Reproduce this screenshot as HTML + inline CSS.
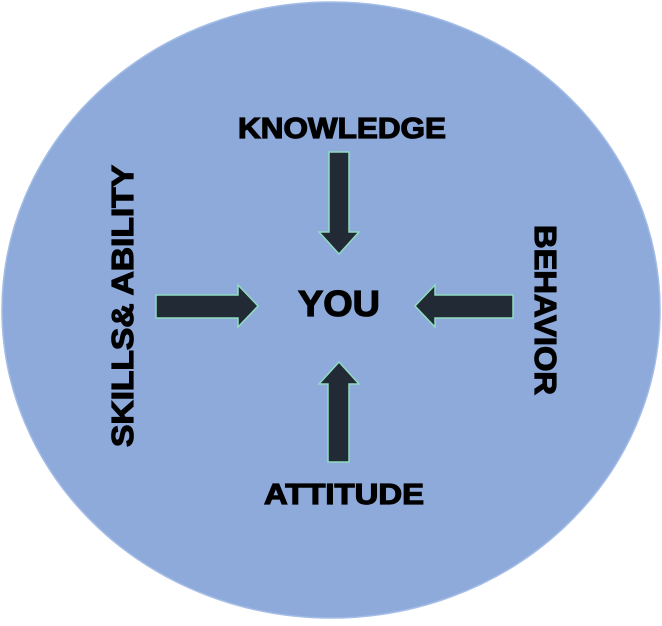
<!DOCTYPE html>
<html><head><style>html,body{margin:0;padding:0;background:#fff}</style></head>
<body>
<svg width="662" height="621" viewBox="0 0 662 621" xmlns="http://www.w3.org/2000/svg">
<ellipse cx="331" cy="310" rx="329" ry="308" fill="#8eaadb" stroke="#a4bde6" stroke-width="1.5"/>
<g fill="#222a35" stroke="#8fdcc0" stroke-width="1.5">
<polygon points="156,295 238,295 238,285 258,306 238,327 238,318 156,318"/>
<polygon points="329,152 349,152 349,232 359,232 339,254 319,232 329,232"/>
<polygon points="513,295 435,295 435,285 415,306 435,327 435,318 513,318"/>
<polygon points="328,462 349,462 349,384 359,384 339,362 319,384 328,384"/>
</g>
<g font-family="Liberation Sans, sans-serif" font-weight="bold" fill="#000" stroke="#000" stroke-width="1.2">
<text x="238" y="138" font-size="29" textLength="208" lengthAdjust="spacingAndGlyphs">KNOWLEDGE</text>
<text x="298" y="316" font-size="36" textLength="82" lengthAdjust="spacingAndGlyphs">YOU</text>
<text x="264" y="504" font-size="29" textLength="160" lengthAdjust="spacingAndGlyphs">ATTITUDE</text>
<text transform="translate(133,447) rotate(-90)" font-size="31" textLength="282" lengthAdjust="spacingAndGlyphs">SKILLS&amp; ABILITY</text>
<text transform="translate(535,225) rotate(90)" font-size="31" textLength="170" lengthAdjust="spacingAndGlyphs">BEHAVIOR</text>
</g>
</svg>
</body></html>
